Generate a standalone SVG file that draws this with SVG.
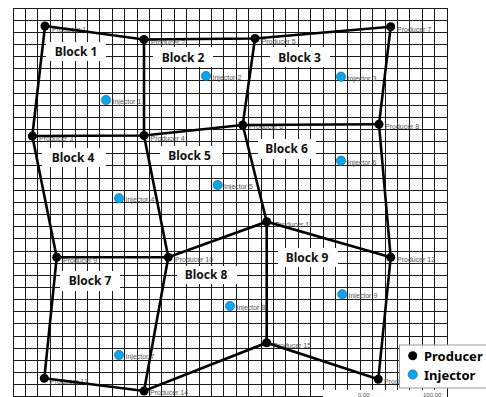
<svg xmlns="http://www.w3.org/2000/svg" width="486" height="397" viewBox="0 0 486 397">
<style>
.grid{stroke:#1a1a1a;stroke-width:1;fill:none;shape-rendering:crispEdges}
.edge{stroke:#000;stroke-width:2.6;fill:none;stroke-linecap:round}
.prod{fill:#000}
.inj{fill:#0aa6e9;stroke:#1b4f7a;stroke-width:0.5}
.lbl{font-family:"Liberation Sans",Arial,sans-serif;font-size:7px;fill:#555}
.blk{font-family:"Noto Sans","Liberation Sans",sans-serif;font-size:12px;font-weight:bold;fill:#111;text-anchor:middle}
.bbox{fill:#fff}
.leg{font-family:"Noto Sans","Liberation Sans",sans-serif;font-size:13px;font-weight:bold;fill:#000}
</style>
<rect width="486" height="397" fill="#fff"/>
<g id="grid">
<path class="grid" d="M13 8V397M25.4 8V397M37.8 8V397M50.2 8V397M62.6 8V397M75 8V397M87.4 8V397M99.8 8V397M112.2 8V397M124.6 8V397M137 8V397M149.4 8V397M161.8 8V397M174.2 8V397M186.6 8V397M199 8V397M211.4 8V397M223.8 8V397M236.2 8V397M248.6 8V397M261 8V397M273.4 8V397M285.8 8V397M298.2 8V397M310.6 8V397M323 8V397M335.4 8V397M347.8 8V397M360.2 8V397M372.6 8V397M385 8V397M397.4 8V397M409.8 8V397M422.2 8V397M434.6 8V397M447 8V397"/>
<path class="grid" d="M13 8H447M13 20.15H447M13 32.3H447M13 44.45H447M13 56.6H447M13 68.75H447M13 80.9H447M13 93.05H447M13 105.2H447M13 117.35H447M13 129.5H447M13 141.65H447M13 153.8H447M13 165.95H447M13 178.1H447M13 190.25H447M13 202.4H447M13 214.55H447M13 226.7H447M13 238.85H447M13 251H447M13 263.15H447M13 275.3H447M13 287.45H447M13 299.6H447M13 311.75H447M13 323.9H447M13 336.05H447M13 348.2H447M13 360.35H447M13 372.5H447M13 384.65H447M13 396.8H447"/>
</g>
<g id="axis">
<rect x="323" y="390" width="124" height="7" fill="#fff"/>
<text class="lbl" x="358" y="396.5" style="font-size:6px">0.00</text>
<text class="lbl" x="423" y="396.5" style="font-size:6px">100.00</text>
</g>
<g id="blocks">
<g id="block1"><rect class="bbox" x="46" y="42" width="60" height="19"/><text class="blk" x="76" y="56">Block 1</text></g>
<g id="block2"><rect class="bbox" x="153" y="47" width="60" height="20"/><text class="blk" x="183" y="61.5">Block 2</text></g>
<g id="block3"><rect class="bbox" x="270" y="47" width="60" height="20"/><text class="blk" x="299.5" y="61.5">Block 3</text></g>
<g id="block4"><rect class="bbox" x="42" y="148" width="64" height="19"/><text class="blk" x="73" y="162">Block 4</text></g>
<g id="block5"><rect class="bbox" x="160" y="146" width="62" height="19"/><text class="blk" x="189.5" y="160">Block 5</text></g>
<g id="block6"><rect class="bbox" x="258" y="139" width="58" height="20"/><text class="blk" x="286.5" y="152.5">Block 6</text></g>
<g id="block7"><rect class="bbox" x="60" y="271" width="60" height="20"/><text class="blk" x="90" y="285">Block 7</text></g>
<g id="block8"><rect class="bbox" x="177" y="266" width="60" height="18"/><text class="blk" x="206" y="278.5">Block 8</text></g>
<g id="block9"><rect class="bbox" x="278" y="248" width="60" height="19"/><text class="blk" x="307" y="261.5">Block 9</text></g>
</g>
<g id="labels">
<text class="lbl" x="52" y="32">Producer 1</text>
<text class="lbl" x="151" y="44.5">Producer 2</text>
<text class="lbl" x="261.5" y="43.5">Producer 5</text>
<text class="lbl" x="397" y="32">Producer 7</text>
<text class="lbl" x="39" y="140.5">Producer 3</text>
<text class="lbl" x="150.5" y="140.5">Producer 4</text>
<text class="lbl" x="249" y="129">Producer 6</text>
<text class="lbl" x="385" y="129">Producer 8</text>
<text class="lbl" x="63" y="262.5">Producer 9</text>
<text class="lbl" x="175" y="261.5">Producer 10</text>
<text class="lbl" x="275" y="226.5">Producer 11</text>
<text class="lbl" x="397" y="262">Producer 12</text>
<text class="lbl" x="50" y="384">Producer 13</text>
<text class="lbl" x="150" y="395">Producer 14</text>
<text class="lbl" x="273" y="347.5">Producer 15</text>
<text class="lbl" x="384" y="384">Producer 16</text>
<text class="lbl" x="112.5" y="104">Injector 1</text>
<text class="lbl" x="212.5" y="80">Injector 2</text>
<text class="lbl" x="347.5" y="80.5">Injector 3</text>
<text class="lbl" x="125.5" y="202">Injector 4</text>
<text class="lbl" x="224" y="189">Injector 5</text>
<text class="lbl" x="347.5" y="164.5">Injector 6</text>
<text class="lbl" x="125.5" y="359">Injector 7</text>
<text class="lbl" x="236.5" y="310">Injector 8</text>
<text class="lbl" x="348.5" y="298">Injector 9</text>
</g>
<g id="connectors">
<path class="edge" d="M45 26L144 39.5L255 38.5L390.7 26.7"/>
<path class="edge" d="M32.3 136L144 135.5L242.7 125L379 124.3"/>
<path class="edge" d="M56.7 257.3L168.3 257.3L266.7 221.7L390.7 257.3"/>
<path class="edge" d="M44.3 378.3L144 391L266.7 342.7L378.3 379.3"/>
<path class="edge" d="M45 26L32.3 136L56.7 257.3L44.3 378.3"/>
<path class="edge" d="M144 39.5L144 135.5L168.3 257.3L144 391"/>
<path class="edge" d="M255 38.5L242.7 125L266.7 221.7L266.7 342.7"/>
<path class="edge" d="M390.7 26.7L379 124.3L390.7 257.3L378.3 379.3"/>
</g>
<g id="producers">
<circle id="producer1" class="prod" cx="45" cy="26" r="4.5"/>
<circle id="producer2" class="prod" cx="144" cy="39.5" r="4.5"/>
<circle id="producer5" class="prod" cx="255" cy="38.5" r="4.5"/>
<circle id="producer7" class="prod" cx="390.7" cy="26.7" r="4.5"/>
<circle id="producer3" class="prod" cx="32.3" cy="136" r="4.5"/>
<circle id="producer4" class="prod" cx="144" cy="135.5" r="4.5"/>
<circle id="producer6" class="prod" cx="242.7" cy="125" r="4.5"/>
<circle id="producer8" class="prod" cx="379" cy="124.3" r="4.5"/>
<circle id="producer9" class="prod" cx="56.7" cy="257.3" r="4.5"/>
<circle id="producer10" class="prod" cx="168.3" cy="257.3" r="4.5"/>
<circle id="producer11" class="prod" cx="266.7" cy="221.7" r="4.5"/>
<circle id="producer12" class="prod" cx="390.7" cy="257.3" r="4.5"/>
<circle id="producer13" class="prod" cx="44.3" cy="378.3" r="4.5"/>
<circle id="producer14" class="prod" cx="144" cy="391" r="4.5"/>
<circle id="producer15" class="prod" cx="266.7" cy="342.7" r="4.5"/>
<circle id="producer16" class="prod" cx="378.3" cy="379.3" r="4.5"/>
</g>
<g id="injectors">
<circle id="injector1" class="inj" cx="106" cy="100" r="4.7"/>
<circle id="injector2" class="inj" cx="206" cy="76" r="4.7"/>
<circle id="injector3" class="inj" cx="341" cy="76.7" r="4.7"/>
<circle id="injector4" class="inj" cx="119" cy="198.3" r="4.7"/>
<circle id="injector5" class="inj" cx="217.7" cy="185" r="4.7"/>
<circle id="injector6" class="inj" cx="341" cy="160.7" r="4.7"/>
<circle id="injector7" class="inj" cx="119" cy="355" r="4.7"/>
<circle id="injector8" class="inj" cx="230" cy="306" r="4.7"/>
<circle id="injector9" class="inj" cx="342.3" cy="294.3" r="4.7"/>
</g>
<g id="legend">
<rect x="399.5" y="345" width="90" height="43" fill="#fff" stroke="#999" stroke-width="1"/>
<circle class="prod" cx="412.7" cy="355.7" r="4.5"/>
<text class="leg" x="424" y="360.5">Producer</text>
<circle class="inj" cx="412.7" cy="374.5" r="4.7"/>
<text class="leg" x="424" y="379.5">Injector</text>
</g>
</svg>
